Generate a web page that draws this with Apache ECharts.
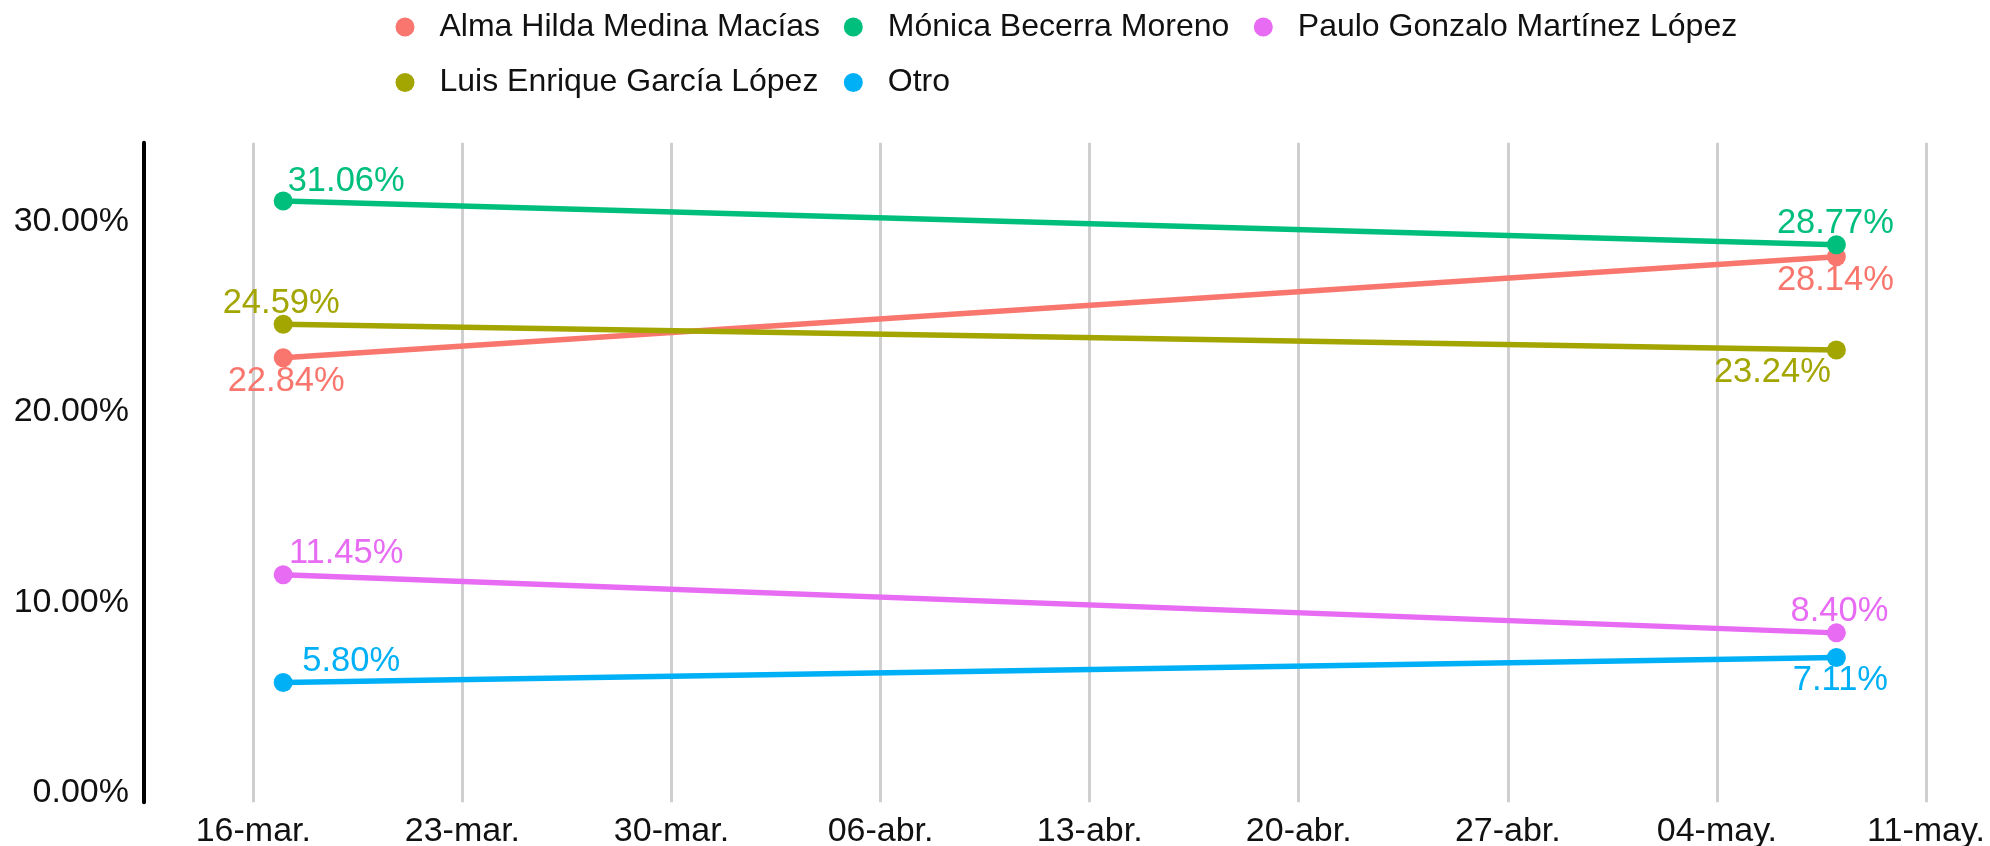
<!DOCTYPE html>
<html><head><meta charset="utf-8">
<script src="https://cdn.jsdelivr.net/npm/echarts@6/dist/echarts.min.js"></script>
<style>html,body{margin:0;padding:0;background:#fff}#c{width:1990px;height:846px}</style>
</head><body><div id="c"></div>
<script>
// ---- data ----
const dates = ['2024-03-17', '2024-05-08'];
const tickStart = '2024-03-16';
const tickLabels = ['16-mar.', '23-mar.', '30-mar.', '06-abr.', '13-abr.', '20-abr.', '27-abr.', '04-may.', '11-may.'];
const yTicks = [0, 10, 20, 30];
const seriesNames = ['Alma Hilda Medina Macías', 'Luis Enrique García López', 'Mónica Becerra Moreno', 'Otro', 'Paulo Gonzalo Martínez López'];
const alma = [22.84, 28.14];
const luis = [24.59, 23.24];
const monica = [31.06, 28.77];
const otro = [5.80, 7.11];
const paulo = [11.45, 8.40];
const values = [alma, luis, monica, otro, paulo];

// ---- styles ----
const colors = ['#F8766D', '#A3A500', '#00BF7D', '#00B0F6', '#E76BF3'];
const labelOffsets = [
  [[3, 24], [-1, 24]],
  [[-2, -21], [-64, 22]],
  [[63, -20], [-1, -21.5]],
  [[68, -21], [4, 23]],
  [[63, -21], [3, -21.5]]
];
const FONT = 'Liberation Sans, Arial, Helvetica, sans-serif';
const DAY = 86400000;
const dayOf = d => (Date.parse(d) - Date.parse(tickStart)) / DAY;

const series = values.map((vals, si) => ({
  name: seriesNames[si],
  type: 'line',
  symbol: 'circle',
  symbolSize: 19,
  color: colors[si],
  lineStyle: { width: 5.5, color: colors[si] },
  itemStyle: { color: colors[si] },
  label: {
    show: true,
    position: 'inside',
    fontSize: 34.5,
    fontFamily: FONT,
    color: colors[si],
    formatter: p => p.value[1].toFixed(2) + '%'
  },
  emphasis: { disabled: true },
  data: vals.map((v, i) => ({
    value: [dayOf(dates[i]), v],
    label: { offset: labelOffsets[si][i] }
  }))
}));

const legendBase = {
  orient: 'vertical',
  top: 11,
  padding: 0,
  itemGap: 23.5,
  itemWidth: 19,
  itemHeight: 19,
  icon: 'circle',
  textStyle: { fontSize: 32, fontFamily: FONT, color: '#111', padding: [0, 0, 0, 20], lineHeight: 32 }
};

const chart = echarts.init(document.getElementById('c'));
chart.setOption({
  animation: false,
  backgroundColor: '#fff',
  legend: [
    Object.assign({}, legendBase, { left: 395.5, data: [seriesNames[0], seriesNames[1]] }),
    Object.assign({}, legendBase, { left: 843.8, data: [seriesNames[2], seriesNames[3]] }),
    Object.assign({}, legendBase, { left: 1253.8, data: [seriesNames[4]] })
  ],
  grid: { left: 144, right: 64, top: 142.7, bottom: 43.7, containLabel: false, outerBoundsMode: 'none' },
  xAxis: {
    type: 'value',
    min: -3.66,
    max: 56,
    minInterval: 7,
    maxInterval: 7,
    axisLine: { show: false },
    axisTick: { show: false },
    axisLabel: {
      margin: 12,
      fontSize: 34,
      fontFamily: FONT,
      color: '#111',
      showMinLabel: false,
      formatter: v => {
        const i = Math.round(v / 7);
        return (Math.abs(v - i * 7) < 1e-6 && tickLabels[i]) ? tickLabels[i] : '';
      }
    },
    splitLine: { show: true, showMinLine: false, lineStyle: { color: '#cfcfcf', width: 3 } }
  },
  yAxis: {
    type: 'value',
    min: -0.49,
    max: 34.12,
    minInterval: 10,
    maxInterval: 10,
    axisLine: { show: true, onZero: false, lineStyle: { color: '#000', width: 4 } },
    axisTick: { show: false },
    splitLine: { show: false },
    axisLabel: {
      margin: 15,
      fontSize: 34,
      fontFamily: FONT,
      color: '#111',
      showMinLabel: false,
      showMaxLabel: false,
      formatter: v => yTicks.some(t => Math.abs(t - v) < 1e-6) ? v.toFixed(2) + '%' : ''
    }
  },
  series: series
});
</script>
</body></html>
